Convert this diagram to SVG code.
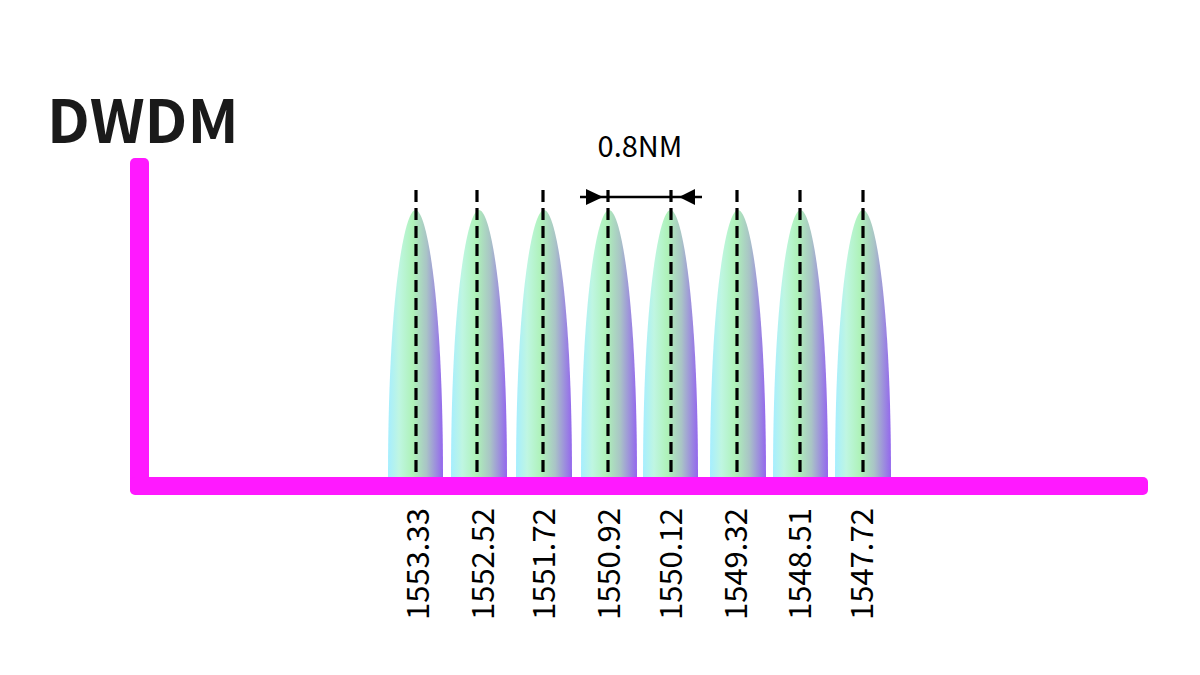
<svg xmlns="http://www.w3.org/2000/svg" width="1200" height="675" viewBox="0 0 1200 675">
<defs>
<linearGradient id="bell" x1="0" y1="0" x2="1" y2="0">
<stop offset="0" stop-color="#a6eeff"/>
<stop offset="0.2" stop-color="#bff6e2"/>
<stop offset="0.45" stop-color="#aef2b8"/>
<stop offset="0.7" stop-color="#a9c4c6"/>
<stop offset="1" stop-color="#9366ee"/>
</linearGradient>
<filter id="blur" x="-10%" y="-200%" width="120%" height="500%"><feGaussianBlur stdDeviation="1.5"/></filter>
<style>
.bell{fill:url(#bell)}
.dash{stroke:#000;stroke-width:3.2;stroke-dasharray:12 6;fill:none}
.lbl{font-family:"Noto Sans CJK SC","Noto Sans",sans-serif;font-size:31px;fill:#000}
.axis{fill:#ff19ff}
</style>
</defs>
<rect width="1200" height="675" fill="#fff"/>
<g id="title"><text x="47" y="143" font-family="Noto Sans CJK SC, Noto Sans, sans-serif" font-weight="bold" font-size="60" fill="#1a1a1a">DWDM</text></g>
<g id="peaks">
<path class="bell" d="M388,478 C388,300 404,210 415.5,210 C427,210 443,300 443,478 Z"/>
<path class="bell" d="M451,478 C451,300 467,210 479,210 C491,210 507,300 507,478 Z"/>
<path class="bell" d="M516,478 C516,300 532,210 544,210 C556,210 572,300 572,478 Z"/>
<path class="bell" d="M581,478 C581,300 597,210 609,210 C621,210 637,300 637,478 Z"/>
<path class="bell" d="M643,478 C643,300 659,210 670.5,210 C682,210 698,300 698,478 Z"/>
<path class="bell" d="M710,478 C710,300 726,210 738,210 C750,210 766,300 766,478 Z"/>
<path class="bell" d="M773,478 C773,300 789,210 800.5,210 C812,210 828,300 828,478 Z"/>
<path class="bell" d="M835,478 C835,300 851,210 863,210 C875,210 891,300 891,478 Z"/>
</g>
<g id="connectors">
<line class="dash" x1="416" y1="190" x2="416" y2="478"/>
<line class="dash" x1="477" y1="190" x2="477" y2="478"/>
<line class="dash" x1="543" y1="190" x2="543" y2="478"/>
<line class="dash" x1="608" y1="190" x2="608" y2="478"/>
<line class="dash" x1="671" y1="190" x2="671" y2="478"/>
<line class="dash" x1="737" y1="190" x2="737" y2="478"/>
<line class="dash" x1="800" y1="190" x2="800" y2="478"/>
<line class="dash" x1="863" y1="190" x2="863" y2="478"/>
<g id="spacing">
<line x1="577" y1="197" x2="705" y2="197" stroke="#000" stroke-width="4" filter="url(#blur)" opacity="0.6"/>
<line x1="580" y1="197" x2="702" y2="197" stroke="#000" stroke-width="2.5"/>
<polygon points="586,189 586,205 603,197" fill="#000"/>
<polygon points="695,189 695,205 679,197" fill="#000"/>
</g>
</g>
<g id="spacing-label"><text x="640" y="157" text-anchor="middle" font-family="Noto Sans CJK SC, Noto Sans, sans-serif" font-size="29" fill="#000">0.8NM</text></g>
<g id="axes">
<rect class="axis" x="130" y="158" width="19" height="336" rx="5"/>
<rect class="axis" x="130" y="477" width="1018" height="18" rx="5"/>
</g>
<g id="labels">
<text class="lbl" transform="translate(429,620) rotate(-90)">1553.33</text>
<text class="lbl" transform="translate(494,620) rotate(-90)">1552.52</text>
<text class="lbl" transform="translate(555,620) rotate(-90)">1551.72</text>
<text class="lbl" transform="translate(620,620) rotate(-90)">1550.92</text>
<text class="lbl" transform="translate(682,620) rotate(-90)">1550.12</text>
<text class="lbl" transform="translate(747,620) rotate(-90)">1549.32</text>
<text class="lbl" transform="translate(811,620) rotate(-90)">1548.51</text>
<text class="lbl" transform="translate(873,620) rotate(-90)">1547.72</text>
</g>
</svg>
